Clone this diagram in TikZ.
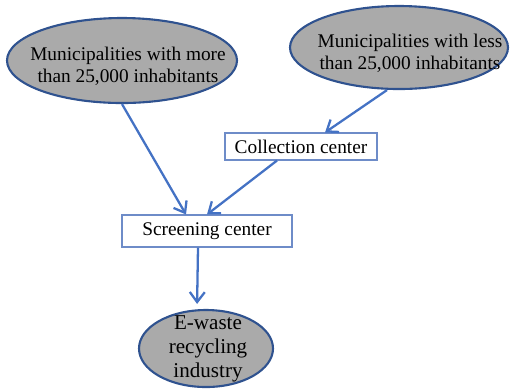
\documentclass[tikz,border=0pt]{standalone}
\usepackage{fontspec}
\setmainfont{Liberation Serif}
\usepackage{xcolor}
\usepackage{tikz}
\usetikzlibrary{arrows.meta,shapes.geometric}
\definecolor{linkblue}{RGB}{68,114,196}
\definecolor{rimblue}{RGB}{47,82,143}
\definecolor{boxblue}{RGB}{110,140,200}
\definecolor{ovalgray}{RGB}{170,170,170}

\begin{document}
\begin{tikzpicture}[x=1cm,y=1cm,font=\fontsize{11}{12.5}\selectfont,
   oval/.style={ellipse,draw=rimblue,line width=1.2pt,fill=ovalgray,inner sep=0pt},
   blk/.style={draw=boxblue,line width=0.6pt,fill=white,inner sep=1pt},
   txt/.style={align=center,inner sep=0pt},
   link/.style={draw=linkblue,line width=1.3pt,-{Straight Barb[length=2mm,width=3mm]}}]
  \useasboundingbox (0,0) rectangle (10.2,-7.78);
  % sources
  \node[oval,minimum width=4.6cm,minimum height=1.7cm]   (mun1) at (2.44,-1.21) {};
  \node[txt] (mun1txt) at (2.56,-1.33) {Municipalities with more\\than 25,000 inhabitants};
  \node[oval,minimum width=4.36cm,minimum height=1.66cm] (mun2) at (7.98,-0.95) {};
  \node[txt] (mun2txt) at (8.2,-1.06) {Municipalities with less\\than 25,000 inhabitants};
  % centers
  \node[blk,minimum width=3.04cm,minimum height=0.54cm] (col) at (6.02,-2.93) {Collection center};
  \node[blk,minimum width=3.4cm,minimum height=0.64cm]  (scr) at (4.14,-4.62) {Screening center};
  % industry
  \node[oval,minimum width=2.68cm,minimum height=1.54cm] (rec) at (4.12,-6.97) {};
  \node[txt,font=\fontsize{12}{13.5}\selectfont] (rectxt) at (4.16,-6.98) {E-waste\\recycling\\industry};
  % flows
  \draw[link] (mun1.south) -- ([xshift=-4.2mm]scr.north);
  \draw[link] ([xshift=-2.4mm]mun2.south) -- ([xshift=4.8mm]col.north);
  \draw[link] ([xshift=-4.8mm]col.south) -- (scr.north);
  \draw[link,shorten >=1mm] ([xshift=-1.8mm]scr.south) -- ([xshift=-1.8mm]rec.north);
\end{tikzpicture}
\end{document}
